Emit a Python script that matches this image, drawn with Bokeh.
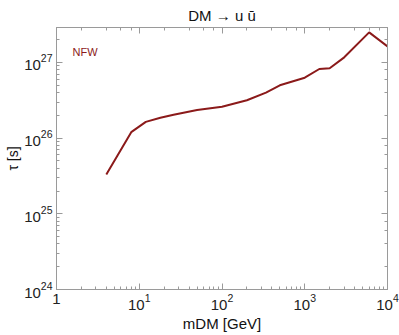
import math
from bokeh.plotting import figure
from bokeh.models import LogAxis, Label, Range1d, CustomJSTickFormatter, Title
from bokeh.embed import file_html
from bokeh.resources import INLINE

# Data
m_dm = [4, 8, 12, 18, 26, 50, 100, 200, 340, 500, 1000, 1500, 2000, 3000, 6000, 10000]
tau = [3.3e25, 1.2e26, 1.64e26, 1.86e26, 2.04e26, 2.35e26, 2.6e26, 3.17e26,
       4.0e26, 5.0e26, 6.3e26, 8.2e26, 8.4e26, 1.17e27, 2.5e27, 1.63e27]
title_text = "DM \u2192 u \u016b"
x_label = "mDM [GeV]"
y_label = "\u03c4 [s]"

FONT = "Liberation Sans"
RED = "#8b1a1a"
GRAY = "#9a9a9a"

X0, X1 = 1, 1e4
Y0, Y1 = 1e24, 2.9e27

W, H = 399, 335
BL, BR, BT, BB = 56, 12, 25, 46

p = figure(width=W, height=H, x_axis_type="log", y_axis_type="log",
           x_range=Range1d(X0, X1), y_range=Range1d(Y0, Y1),
           output_backend="svg", toolbar_location=None,
           min_border_left=BL, min_border_right=BR, min_border_top=BT,
           min_border_bottom=BB)
p.grid.visible = False
p.outline_line_color = GRAY
p.background_fill_color = "white"
p.border_fill_color = "white"

p.title = Title(text=title_text, align="center", text_font=FONT,
                text_font_size="15px", text_font_style="normal",
                text_color="#111111", standoff=8)

p.line(m_dm, tau, line_color=RED, line_width=2)

def style(ax):
    ax.axis_line_color = GRAY
    ax.major_tick_line_color = GRAY
    ax.minor_tick_line_color = GRAY
    ax.major_tick_in = 6
    ax.major_tick_out = 0
    ax.minor_tick_in = 3
    ax.minor_tick_out = 0
    ax.major_label_text_font = FONT
    ax.major_label_text_font_size = "15px"
    ax.major_label_text_color = "#222222"
    ax.major_label_standoff = 4
    ax.axis_label_text_font = FONT
    ax.axis_label_text_font_size = "15px"
    ax.axis_label_text_font_style = "normal"
    ax.axis_label_text_color = "#111111"
    ax.axis_label_standoff = 2

style(p.xaxis[0])
style(p.yaxis[0])
p.xaxis[0].major_label_overrides = {1: "1"}
p.xaxis[0].axis_label = x_label
p.yaxis[0].axis_label = y_label
p.yaxis[0].axis_label_text_font_size = "14px"
p.yaxis[0].axis_label_standoff = 0

top = LogAxis(formatter=CustomJSTickFormatter(code="return ''"))
right = LogAxis(formatter=CustomJSTickFormatter(code="return ''"))
style(top)
style(right)
top.major_label_standoff = 0
right.major_label_standoff = 0
p.add_layout(top, "above")
p.add_layout(right, "right")

# NFW
p.add_layout(Label(x=72, y=51, x_units="canvas", y_units="canvas",
                   text="NFW", text_font=FONT, text_font_size="11px",
                   text_baseline="middle", text_color=RED))

open("out.html", "w").write(file_html(p, INLINE))
